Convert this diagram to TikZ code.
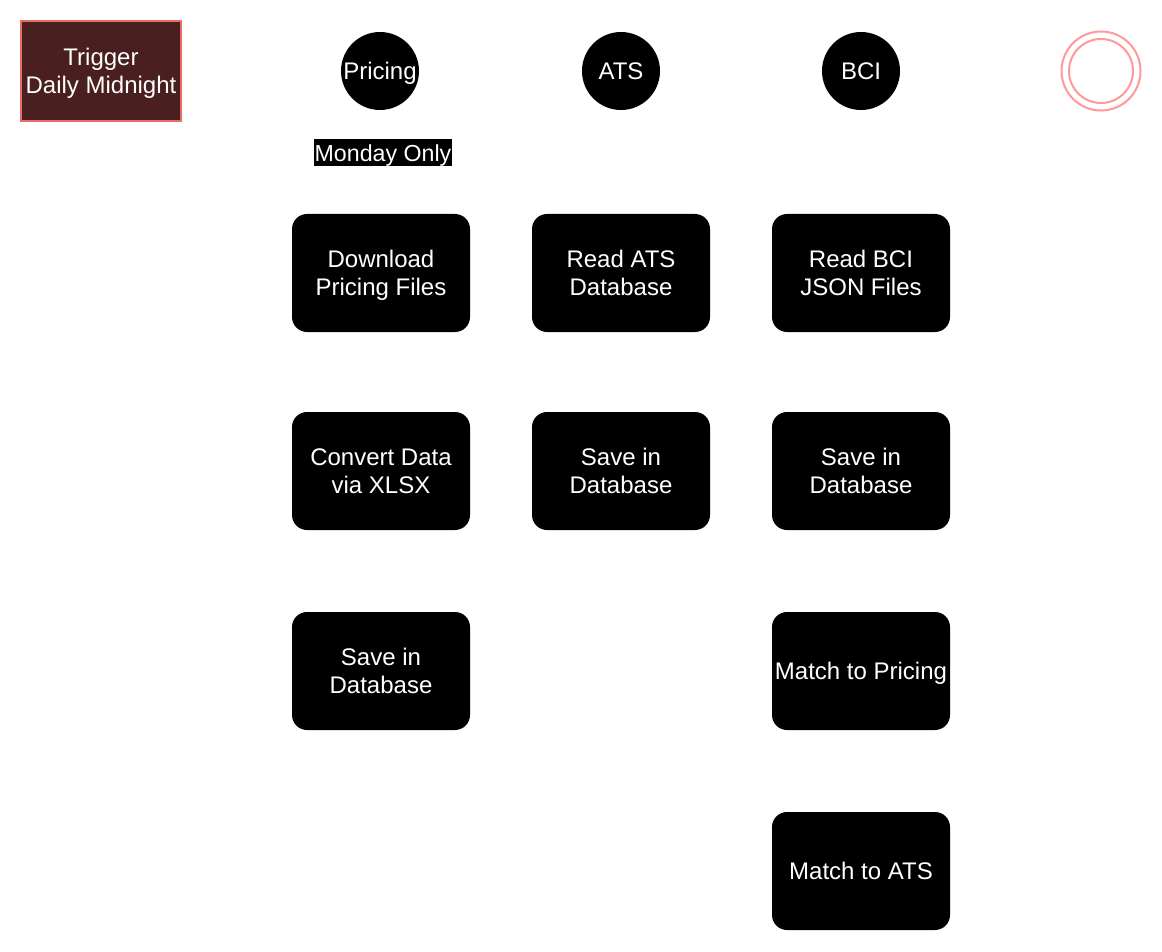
\documentclass[tikz,border=0pt]{standalone}
\usepackage{fontspec}
\setmainfont{Liberation Sans}
\definecolor{trigfill}{HTML}{4A1F1F}
\definecolor{trigdraw}{HTML}{EA6B66}
\definecolor{endring}{HTML}{FF9999}
\newcommand\nodepth[1]{\raisebox{0pt}[\height][0pt]{#1}}
\begin{document}
\begin{tikzpicture}[x=1pt,y=-1pt,
  every node/.style={font=\fontsize{24}{28}\selectfont, text=white, align=center, inner sep=0pt},
  lane/.style={circle, fill=black, minimum size=78pt},
  stepbox/.style={rounded corners=15pt, fill=black, minimum width=178pt, minimum height=118pt},
  trig/.style={fill=trigfill, draw=trigdraw, line width=1.5pt, minimum width=160pt, minimum height=100pt},
  tag/.style={fill=black, minimum width=138pt, minimum height=27pt, font=\fontsize{23.2}{28}\selectfont}]
\useasboundingbox (0,0) rectangle (1162,952);
\node[trig] (trigger) at (101,71) {Trigger\\\nodepth{Daily Midnight}};
\node[lane] (pricing) at (380,71) {\nodepth{Pricing}};
\node[lane] (ats) at (621,71) {ATS};
\node[lane] (bci) at (861,71) {BCI};
\node[circle, draw=endring, line width=2pt, minimum size=79pt] (endo) at (1101,71) {};
\node[circle, draw=endring, line width=2pt, minimum size=64pt] (endi) at (1101,71) {};
\node[tag] (monday) at (383,153) {\nodepth{Monday Only}};
\node[stepbox] (p1) at (381,273) {Download\\\nodepth{Pricing Files}};
\node[stepbox] (p2) at (381,471) {Convert Data\\via XLSX};
\node[stepbox] (p3) at (381,671) {Save in\\Database};
\node[stepbox] (a1) at (621,273) {Read ATS\\Database};
\node[stepbox] (a2) at (621,471) {Save in\\Database};
\node[stepbox] (b1) at (861,273) {Read BCI\\JSON Files};
\node[stepbox] (b2) at (861,471) {Save in\\Database};
\node[stepbox] (b3) at (861,671) {\nodepth{Match to Pricing}};
\node[stepbox] (b4) at (861,871) {Match to ATS};
\end{tikzpicture}
\end{document}
